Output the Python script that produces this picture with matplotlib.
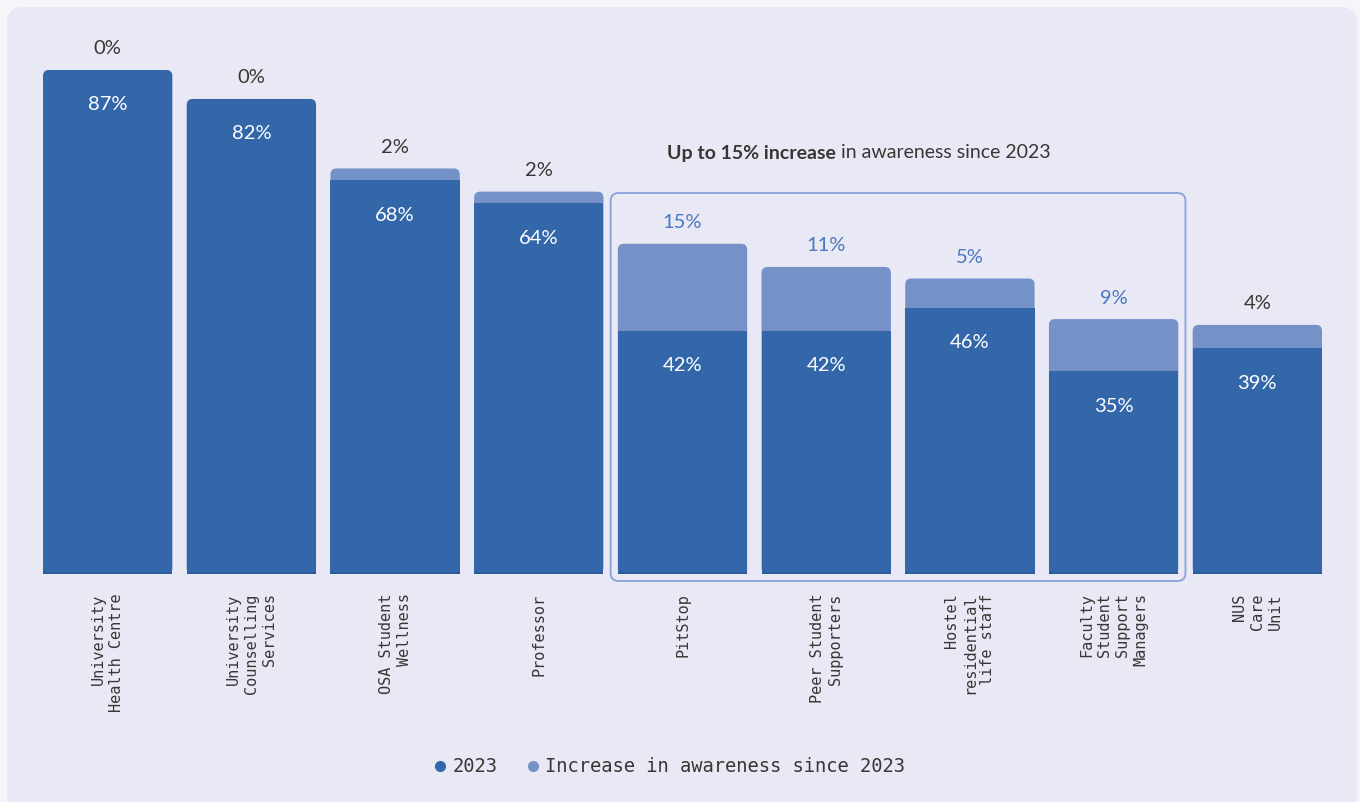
import matplotlib
matplotlib.use("Agg")
import matplotlib.pyplot as plt
from matplotlib.patches import FancyBboxPatch
from matplotlib.lines import Line2D
import numpy as np

# awareness of support services, % of students
categories = [
    "University\nHealth Centre",
    "University\nCounselling\nServices",
    "OSA Student\nWellness",
    "Professor",
    "PitStop",
    "Peer Student\nSupporters",
    "Hostel\nresidential\nlife staff",
    "Faculty\nStudent\nSupport\nManagers",
    "NUS\nCare\nUnit",
]
base_2023 = [87, 82, 68, 64, 42, 42, 46, 35, 39]
increase = [0, 0, 2, 2, 15, 11, 5, 9, 4]
highlighted = [4, 5, 6, 7]  # services inside the callout box

DARK = "#3367AA"
LIGHT = "#7492C8"
EDGE = "#2A5B9C"
TEXT = "#3B3534"
ACCENT = "#4A78C0"
PANEL = "#E8E9F5"
OUTER = "#F5F6FA"

W, H = 1360, 802
fig = plt.figure(figsize=(W / 100, H / 100), dpi=100)
fig.patch.set_facecolor(OUTER)

# rounded background panel
panel = FancyBboxPatch((7 / W, -20 / H), (1357 - 7) / W, (795 + 20) / H,
                       boxstyle="round,pad=0,rounding_size=0.012",
                       transform=fig.transFigure, facecolor=PANEL,
                       edgecolor="none", mutation_aspect=W / H, zorder=-10)
fig.patches.append(panel)

ax = fig.add_axes([43 / W, (H - 574) / H, (1322 - 43) / W, 521.4 / H])
ax.set_zorder(1)
ax.set_facecolor("none")
ax.set_xlim(-0.45, len(categories) - 0.55)
ax.set_ylim(0, 90)
for s in ax.spines.values():
    s.set_visible(False)
ax.set_yticks([])

x = np.arange(len(categories))
width = 0.9
totals = [b + i for b, i in zip(base_2023, increase)]

# data units per pixel, used for rounding corners and offsets
px_x = (ax.get_xlim()[1] - ax.get_xlim()[0]) / ((1322 - 43))
px_y = 90 / 521.4
aspect = px_y / px_x
r = 6 * px_x

for xi, b, inc, tot in zip(x, base_2023, increase, totals):
    top_col = LIGHT if inc > 0 else DARK
    ax.add_patch(FancyBboxPatch((xi - width / 2, 0), width, tot,
                                boxstyle=f"round,pad=0,rounding_size={r}",
                                mutation_aspect=aspect, facecolor=top_col,
                                edgecolor="none", zorder=2))
    square_h = b if inc > 0 else b - 8 * px_y
    ax.bar(xi, square_h, width=width, color=DARK, zorder=3)
    ax.bar(xi, 2 * px_y, width=width, color=EDGE, zorder=4)

    ax.text(xi, b - 35 * px_y, f"{b}%", ha="center", va="center",
            color="white", fontsize=14.5, family="Lato", zorder=5)
    col = ACCENT if xi in highlighted else TEXT
    ax.text(xi, tot + 21 * px_y, f"{inc}%", ha="center", va="center",
            color=col, fontsize=14.5, family="Lato", clip_on=False)

# callout box around the highlighted services
x0 = highlighted[0] - 0.5
x1 = highlighted[-1] + 0.5
box = FancyBboxPatch((x0, -7 * px_y), x1 - x0, (381 + 7) * px_y,
                     boxstyle=f"round,pad=0,rounding_size={8 * px_x}",
                     mutation_aspect=aspect, facecolor="none",
                     edgecolor="#8EA5DC", linewidth=1.4, clip_on=False, zorder=1)
ax.add_patch(box)

split = 5.07
title_y = (574 - 153) * px_y
ax.text(split, title_y, "Up to 15% increase", ha="right", va="center",
        fontsize=14, fontweight="bold", color=TEXT, family="Lato", clip_on=False)
ax.text(split + 5 * px_x, title_y, "in awareness since 2023", ha="left", va="center",
        fontsize=14, color=TEXT, family="Lato", clip_on=False)

ax.set_xticks(x)
ax.set_xticklabels(categories, rotation=90, ha="center", va="top",
                   multialignment="right", family="DejaVu Sans Mono",
                   fontsize=11, color=TEXT, linespacing=1.25)
ax.tick_params(axis="x", length=0, pad=14)

handles = [
    Line2D([], [], marker="o", linestyle="none", markersize=7, color=DARK),
    Line2D([], [], marker="o", linestyle="none", markersize=7, color=LIGHT),
]
fig.legend(handles, ["2023", "Increase in awareness since 2023"],
           loc="center", bbox_to_anchor=(668 / W, (H - 767) / H), ncol=2,
           frameon=False, handletextpad=0.15, columnspacing=1.4,
           handlelength=1.0, prop={"family": "DejaVu Sans Mono", "size": 13.5},
           labelcolor=TEXT)

fig.savefig("out.png", dpi=100, facecolor=OUTER)
